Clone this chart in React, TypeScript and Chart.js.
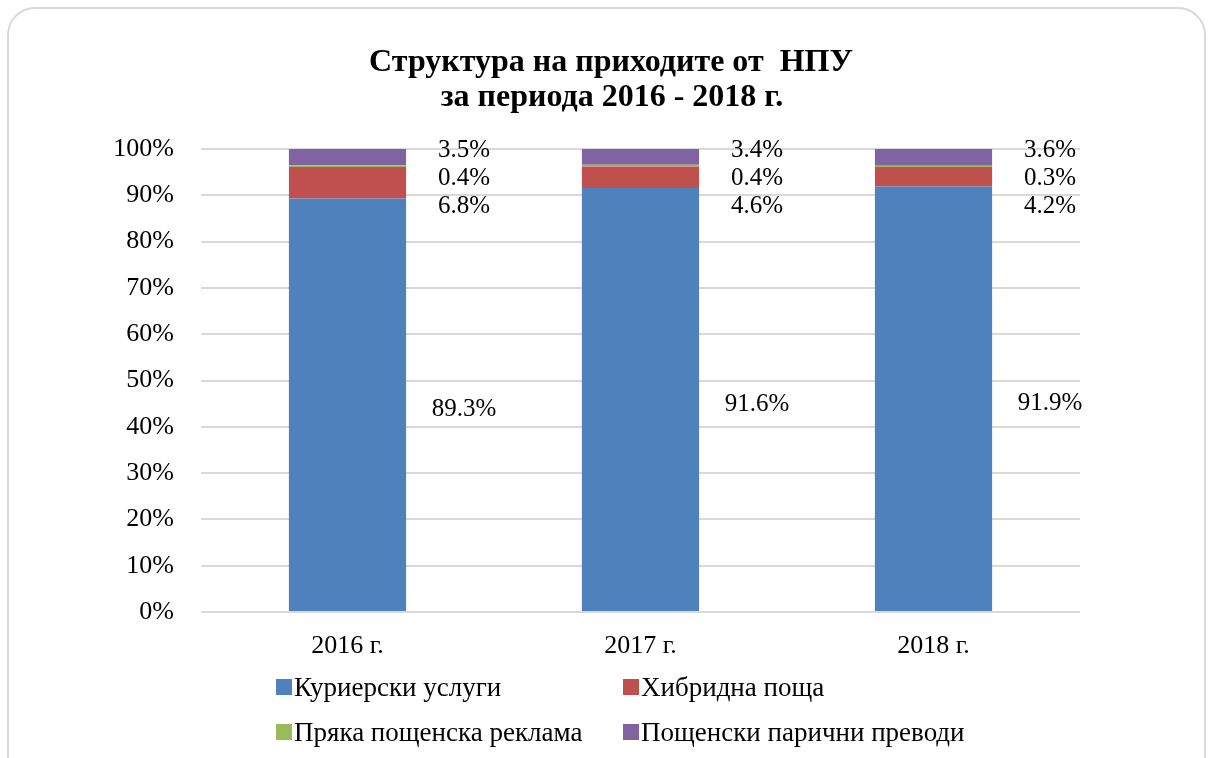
import React, { useEffect, useRef } from "react";
import { Chart, registerables } from "chart.js";

Chart.register(...registerables);

const categories = ["2016 г.", "2017 г.", "2018 г."];
const seriesNames = [
  "Куриерски услуги",
  "Хибридна поща",
  "Пряка пощенска реклама",
  "Пощенски парични преводи",
];
const courier = [89.3, 91.6, 91.9];
const hybrid = [6.8, 4.6, 4.2];
const directMail = [0.4, 0.4, 0.3];
const moneyOrders = [3.5, 3.4, 3.6];
const yTickValues = [0, 10, 20, 30, 40, 50, 60, 70, 80, 90, 100];
const titleLines = ["Структура на приходите от  НПУ", "за периода 2016 - 2018 г."];
const colors = ["#4F81BD", "#C0504D", "#9BBB59", "#8064A2"];

const FONT = "'Liberation Serif', 'Times New Roman', serif";

const titlePlugin = {
  id: "customTitle",
  afterDraw(chart: any) {
    const ctx = chart.ctx;
    ctx.save();
    ctx.fillStyle = "#000";
    ctx.font = `bold 32px ${FONT}`;
    ctx.textAlign = "center";
    ctx.textBaseline = "alphabetic";
    ctx.fillText(titleLines[0], 611, 71);
    ctx.fillText(titleLines[1], 612, 106);
    ctx.restore();
  },
};

const labelPlugin = {
  id: "sideLabels",
  afterDatasetsDraw(chart: any) {
    const ctx = chart.ctx;
    ctx.save();
    ctx.fillStyle = "#000";
    ctx.font = `25px ${FONT}`;
    ctx.textAlign = "center";
    ctx.textBaseline = "middle";
    const n = chart.data.labels.length;
    for (let i = 0; i < n; i++) {
      const metas = chart.data.datasets.map((_: any, d: number) => chart.getDatasetMeta(d).data[i]);
      const fmt = (d: number) => chart.data.datasets[d].data[i].toFixed(1) + "%";
      const bottom = metas[0];
      const lx = bottom.x + bottom.width / 2 + 58;
      ctx.fillText(fmt(0), lx, (bottom.y + bottom.base) / 2 + 5);
      let prev = metas[3].y + 1;
      ctx.fillText(fmt(3), lx, prev);
      for (const d of [2, 1]) {
        const c = (metas[d].y + metas[d].base) / 2;
        const y = Math.max(c, prev + 28);
        ctx.fillText(fmt(d), lx, y);
        prev = y;
      }
    }
    ctx.restore();
  },
};

export default function App() {
  const ref = useRef<HTMLCanvasElement>(null);
  useEffect(() => {
    const chart = new Chart(ref.current!, {
      type: "bar",
      data: {
        labels: categories,
        datasets: [courier, hybrid, directMail, moneyOrders].map((vals, k) => ({
          label: seriesNames[k],
          data: vals,
          backgroundColor: colors[k],
          barPercentage: 0.4,
          categoryPercentage: 1,
        })),
      },
      options: {
        animation: false,
        responsive: false,
        layout: { padding: { top: 149, right: 128, bottom: 96, left: 0 } },
        plugins: { legend: { display: false }, title: { display: false }, tooltip: { enabled: false } },
        scales: {
          x: {
            stacked: true,
            grid: { display: false, drawTicks: false },
            border: { display: false },
            ticks: { color: "#000", font: { family: FONT, size: 26 }, padding: 19 },
            afterFit: (s: any) => { s.height = 50; },
          },
          y: {
            stacked: true,
            min: 0,
            max: 100,
            afterBuildTicks: (s: any) => { s.ticks = yTickValues.map((v) => ({ value: v })); },
            grid: { color: "#d9d9d9", lineWidth: 2, drawTicks: false },
            border: { display: false },
            ticks: {
              color: "#000",
              font: { family: FONT, size: 26 },
              padding: 27,
              callback: (v: any) => v + "%",
            },
            afterFit: (s: any) => { s.width = 201; },
          },
        },
      },
      plugins: [titlePlugin, labelPlugin],
    });
    return () => chart.destroy();
  }, []);

  const legendItems = [
    { k: 0, left: 276, top: 687 },
    { k: 1, left: 623, top: 687 },
    { k: 2, left: 276, top: 732 },
    { k: 3, left: 623, top: 732 },
  ];

  return (
    <div style={{ position: "fixed", left: 0, top: 0, width: 1208, height: 758, overflow: "hidden", background: "#fff" }}>
      <div
        style={{
          position: "absolute",
          left: 7,
          top: 7,
          width: 1199,
          height: 800,
          boxSizing: "border-box",
          border: "2px solid #d9d9d9",
          borderRadius: 28,
        }}
      />
      <canvas ref={ref} width={1208} height={758} style={{ position: "absolute", left: 0, top: 0 }} />
      {legendItems.map((it) => (
        <div
          key={it.k}
          style={{
            position: "absolute",
            left: it.left,
            top: it.top - 16,
            height: 32,
            display: "flex",
            alignItems: "center",
            fontFamily: FONT,
            fontSize: 27,
            color: "#000",
            whiteSpace: "nowrap",
          }}
        >
          <span style={{ display: "inline-block", width: 16, height: 16, background: colors[it.k], marginRight: 2 }} />
          <span>{seriesNames[it.k]}</span>
        </div>
      ))}
    </div>
  );
}
